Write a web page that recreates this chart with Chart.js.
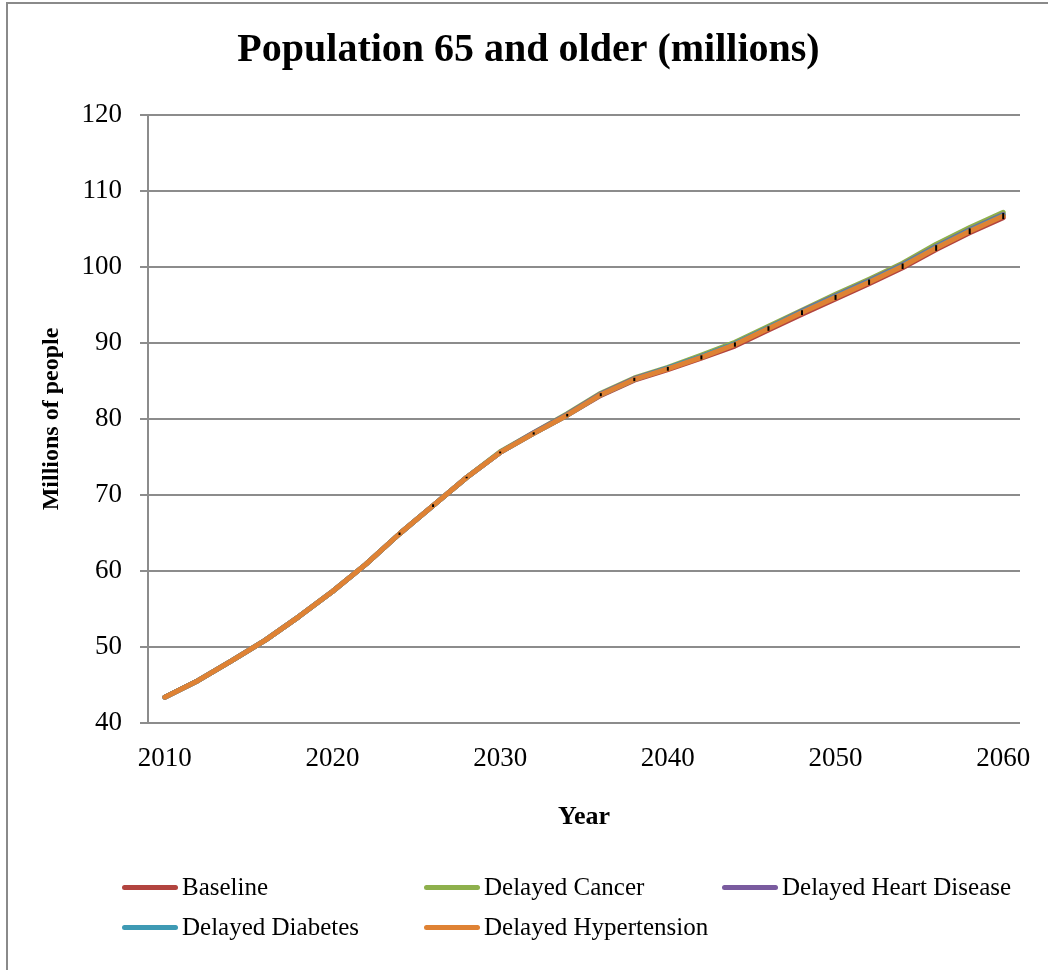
<!DOCTYPE html>
<html>
<head>
<meta charset="utf-8">
<script src="https://cdn.jsdelivr.net/npm/chart.js@4/dist/chart.umd.min.js"></script>
<style>
  html, body { margin: 0; padding: 0; background: #fff; }
  #wrap { position: relative; width: 1048px; height: 970px; overflow: hidden; }
  #frame { position: absolute; left: 6px; top: 2px; width: 1100px; height: 1000px;
           border-left: 2px solid #8a8a8a; border-top: 2px solid #8a8a8a; }
  canvas { position: absolute; left: 0; top: 0; }
  #legend { position: absolute; left: 0; top: 0; font-family: "Liberation Serif", serif; font-size: 25px; color: #000; }
  .item { position: absolute; display: flex; align-items: center; white-space: nowrap; }
  .swatch { width: 56px; height: 5px; border-radius: 3px; margin-right: 4px; }
</style>
</head>
<body>
<div id="wrap">
  <div id="frame"></div>
  <canvas id="chart" width="1048" height="970"></canvas>
  <div id="legend"></div>
</div>
<script>
// Years on the horizontal axis (two-year steps)
const years = ['2010','2012','2014','2016','2018','2020','2022','2024','2026','2028','2030','2032','2034',
               '2036','2038','2040','2042','2044','2046','2048','2050','2052','2054','2056','2058','2060'];

// Population aged 65 and older, millions, per scenario
const baseline     = [43.4,45.6,48.2,50.9,54.0,57.3,60.9,64.9,68.6,72.3,75.6,78.1,80.5,83.1,85.1,86.5,88.0,89.6,91.7,93.8,95.8,97.8,99.9,102.3,104.5,106.5];
const cancer       = [43.4,45.6,48.2,50.9,54.0,57.3,60.9,64.9,68.6,72.3,75.7,78.2,80.7,83.4,85.4,86.8,88.4,90.1,92.2,94.3,96.4,98.4,100.5,103.0,105.2,107.2];
const heart        = [43.4,45.6,48.2,50.9,54.0,57.3,60.9,64.9,68.6,72.3,75.6,78.2,80.6,83.3,85.3,86.7,88.2,89.9,92.0,94.2,96.2,98.2,100.3,102.7,104.9,106.9];
const diabetes     = [43.4,45.6,48.2,50.9,54.0,57.3,60.9,64.9,68.6,72.3,75.6,78.1,80.5,83.2,85.2,86.7,88.2,89.9,92.0,94.1,96.1,98.1,100.2,102.6,104.8,106.8];
const hypertension = [43.4,45.6,48.2,50.9,54.0,57.3,60.9,64.9,68.6,72.3,75.6,78.1,80.5,83.2,85.2,86.6,88.1,89.8,91.9,94.0,96.0,98.0,100.1,102.5,104.7,106.7];

// Half-width of the uncertainty bars on the hypertension scenario
const hypertensionErr = [0,0,0,0,0,0,0,0.06,0.08,0.1,0.12,0.15,0.17,0.2,0.22,0.25,0.27,0.28,0.3,0.32,0.33,0.35,0.36,0.37,0.38,0.4];

// Labelled ticks on the axes
const xTickLabels = ['2010','2020','2030','2040','2050','2060'];
const yTicks = [40,50,60,70,80,90,100,110,120];

const seriesNames = ['Baseline','Delayed Cancer','Delayed Heart Disease','Delayed Diabetes','Delayed Hypertension'];
const seriesData = [baseline, cancer, heart, diabetes, hypertension];
const seriesColors = ['#B2443F','#8EB04C','#7A5B9F','#3E9AB4','#DF8234'];

const serif = '"Liberation Serif", "DejaVu Serif", serif';

// Later series are painted over earlier ones
const datasets = seriesNames.map((name, i) => ({
  label: name,
  data: seriesData[i],
  order: seriesNames.length - 1 - i,
  borderColor: seriesColors[i],
  backgroundColor: seriesColors[i],
  borderWidth: 5,
  borderCapStyle: 'round',
  borderJoinStyle: 'round',
  pointRadius: 0,
  tension: 0,
  fill: false
}));

// Vertical error bars drawn on top of the hypertension line
const errorBars = {
  id: 'errorBars',
  afterDatasetsDraw(chart) {
    const idx = seriesNames.indexOf('Delayed Hypertension');
    const meta = chart.getDatasetMeta(idx);
    const y = chart.scales.y;
    const ctx = chart.ctx;
    ctx.save();
    ctx.strokeStyle = '#000';
    ctx.lineWidth = 2;
    meta.data.forEach((pt, i) => {
      const e = hypertensionErr[i];
      if (!e) return;
      const v = hypertension[i];
      let top = y.getPixelForValue(v + e);
      let bot = y.getPixelForValue(v - e);
      if (bot - top < 1.5) { top -= 0.75; bot += 0.75; }
      ctx.beginPath();
      ctx.moveTo(pt.x, top);
      ctx.lineTo(pt.x, bot);
      ctx.stroke();
    });
    ctx.restore();
  }
};

new Chart(document.getElementById('chart'), {
  type: 'line',
  data: { labels: years, datasets },
  plugins: [errorBars],
  options: {
    responsive: false,
    animation: false,
    devicePixelRatio: 1,
    layout: { padding: { left: 37, right: 28, top: 0, bottom: 137 } },
    plugins: {
      legend: { display: false },
      tooltip: { enabled: false },
      title: {
        display: true,
        text: 'Population 65 and older (millions)',
        color: '#000',
        font: { family: serif, size: 40, weight: 'bold' },
        padding: { top: 27, bottom: 40 }
      }
    },
    scales: {
      x: {
        type: 'category',
        offset: true,
        grid: { display: false },
        border: { display: false },
        ticks: {
          autoSkip: false,
          maxRotation: 0,
          padding: 12,
          color: '#000',
          font: { family: serif, size: 27 },
          callback: function (v, i) {
            const lab = years[i];
            return xTickLabels.includes(lab) ? lab : '';
          }
        },
        title: {
          display: true,
          text: 'Year',
          color: '#000',
          font: { family: serif, size: 26, weight: 'bold' },
          padding: 0
        },
        afterFit(scale) { scale.height = 110; }
      },
      y: {
        min: 40,
        max: 120,
        afterBuildTicks(scale) { scale.ticks = yTicks.map(v => ({ value: v })); },
        grid: { color: '#8c8c8c', lineWidth: 2, tickLength: 8, drawTicks: true },
        border: { display: true, color: '#8c8c8c', width: 2 },
        ticks: {
          padding: 18,
          color: '#000',
          font: { family: serif, size: 27 }
        },
        title: {
          display: true,
          text: 'Millions of people',
          color: '#000',
          font: { family: serif, size: 24, weight: 'bold' },
          padding: 0
        },
        afterFit(scale) { scale.width = 111; }
      }
    }
  }
});

// Legend laid out in three columns, two rows
const legendCols = [122, 424, 722];
const legendRows = [887, 927];
const legend = document.getElementById('legend');
seriesNames.forEach((name, i) => {
  const item = document.createElement('div');
  item.className = 'item';
  item.style.left = legendCols[i % 3] + 'px';
  item.style.top = (legendRows[Math.floor(i / 3)] - 15) + 'px';
  item.style.height = '30px';
  const sw = document.createElement('div');
  sw.className = 'swatch';
  sw.style.background = seriesColors[i];
  const tx = document.createElement('span');
  tx.textContent = name;
  item.appendChild(sw);
  item.appendChild(tx);
  legend.appendChild(item);
});
</script>
</body>
</html>
